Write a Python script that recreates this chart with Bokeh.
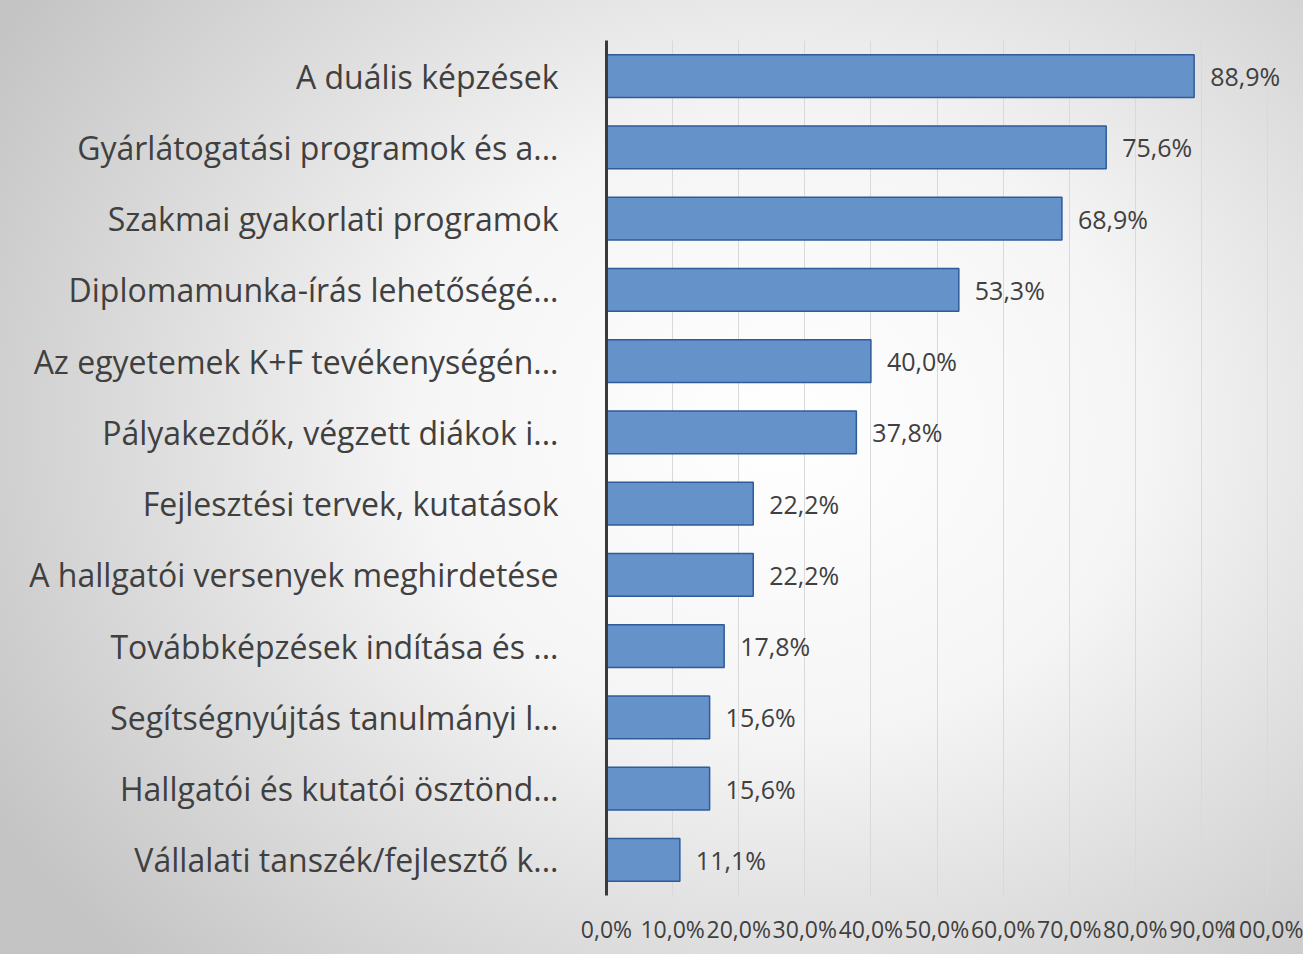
from bokeh.plotting import figure
from bokeh.models import FactorRange, Range1d, ColumnDataSource, FixedTicker, CustomJSTickFormatter
from bokeh.core.properties import value
from bokeh.embed import file_html
from bokeh.resources import INLINE

categories = [
    "A duális képzések",
    "Gyárlátogatási programok és a...",
    "Szakmai gyakorlati programok",
    "Diplomamunka-írás lehetőségé...",
    "Az egyetemek K+F tevékenységén...",
    "Pályakezdők, végzett diákok i...",
    "Fejlesztési tervek, kutatások",
    "A hallgatói versenyek meghirdetése",
    "Továbbképzések indítása és ...",
    "Segítségnyújtás tanulmányi l...",
    "Hallgatói és kutatói ösztönd...",
    "Vállalati tanszék/fejlesztő k...",
]
values = [88.9, 75.6, 68.9, 53.3, 40.0, 37.8, 22.2, 22.2, 17.8, 15.6, 15.6, 11.1]
labels = [f"{v:.1f}".replace(".", ",") + "%" for v in values]
x_ticks = [0, 10, 20, 30, 40, 50, 60, 70, 80, 90, 100]

FONT = "Open Sans"
TXT = "#404040"

W, H = 1303, 954
LEFT, AXIS_END = 606, 1267

src = ColumnDataSource(dict(cat=categories, val=values, lab=labels))

p = figure(
    width=W, height=H,
    y_range=FactorRange(*reversed(categories), range_padding=0.0),
    x_range=Range1d(0, 100 * (W - LEFT) / (AXIS_END - LEFT)),
    output_backend="svg", toolbar_location=None,
    min_border_left=LEFT, min_border_right=0, min_border_top=40, min_border_bottom=H - 895,
)
p.styles = {"background-image": "radial-gradient(ellipse 70% 80% at 60% 45%, #ffffff 0%, #f5f5f5 40%, #c4c4c4 100%)"}
p.border_fill_color = None
p.background_fill_color = None
p.outline_line_color = None

p.hbar(y="cat", right="val", left=0, height=0.6, source=src,
       fill_color="#6592c8", line_color="#2f5b9b", line_width=1.5)

p.text(x="val", y="cat", text="lab", source=src, x_offset=16,
       text_font=value(FONT), text_font_size="25px", text_color=TXT,
       text_baseline="middle", text_align="left")

p.xaxis.ticker = FixedTicker(ticks=x_ticks)
p.xaxis.formatter = CustomJSTickFormatter(code="return tick.toFixed(1).replace('.', ',') + '%';")
p.xaxis.axis_line_color = None
p.xaxis.major_tick_line_color = None
p.xaxis.minor_tick_line_color = None
p.xaxis.major_label_standoff = 11
p.xaxis.major_label_text_font = FONT
p.xaxis.major_label_text_font_size = "23px"
p.xaxis.major_label_text_color = TXT

p.yaxis.axis_line_color = "#3a3a3a"
p.yaxis.axis_line_width = 3
p.yaxis.major_tick_line_color = None
p.yaxis.minor_tick_line_color = None
p.yaxis.major_label_standoff = 42
p.yaxis.major_label_text_font = FONT
p.yaxis.major_label_text_font_size = "32px"
p.yaxis.major_label_text_color = TXT

p.ygrid.grid_line_color = None
p.xgrid.grid_line_color = "#d9d9d9"
p.xgrid.grid_line_width = 1

open("out.html", "w").write(file_html(p, INLINE))
